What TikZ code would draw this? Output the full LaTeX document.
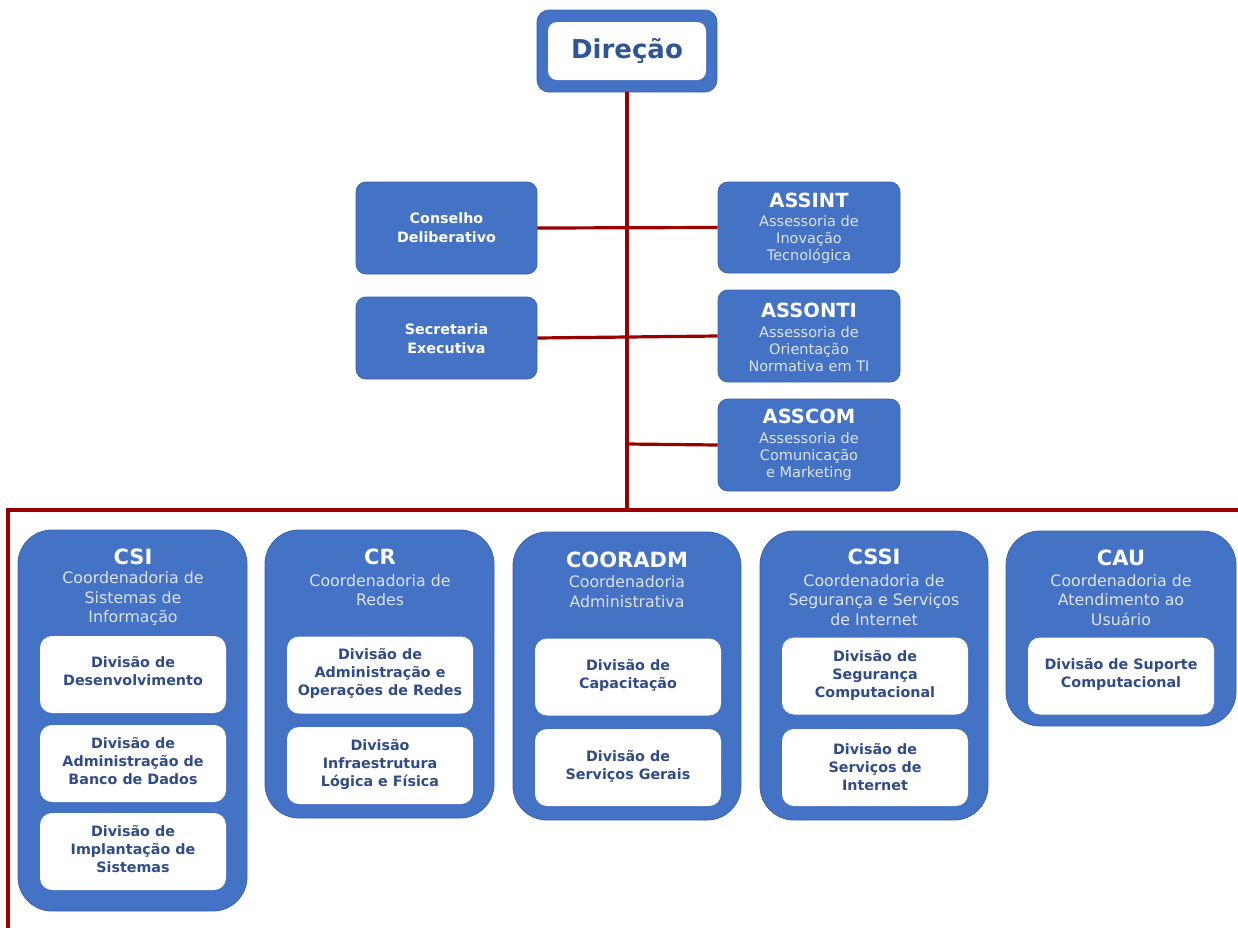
\documentclass[tikz,border=0pt]{standalone}
\usepackage{fontspec}
\setmainfont{DejaVu Sans}
\definecolor{boxblue}{HTML}{4472C4}
\definecolor{edgeblue}{HTML}{3A63AC}
\definecolor{linered}{HTML}{990000}
\definecolor{divtext}{HTML}{2F4B8A}
\definecolor{dirtext}{HTML}{2F5597}
\definecolor{subtext}{HTML}{DCE3EF}
\tikzset{
  bluebox/.style={draw=edgeblue, line width=0.8pt, fill=boxblue, rounded corners=10pt, inner sep=0pt},
  bigbox/.style={bluebox, rounded corners=34pt},
  divbox/.style={fill=white, rounded corners=12pt, minimum width=186pt, minimum height=77pt, inner sep=0pt},
  divlabel/.style={align=center, text=divtext, inner sep=0pt, font=\fontsize{14.3}{18}\selectfont\bfseries},
  smalllabel/.style={align=center, text=white, inner sep=0pt, font=\fontsize{14.3}{19}\selectfont\bfseries},
  asstitle/.style={text=white, inner sep=0pt, font=\fontsize{19.5}{21}\selectfont\bfseries},
  asssub/.style={align=center, text=subtext, inner sep=0pt, font=\fontsize{14.5}{17.3}\selectfont},
  cotitle/.style={text=white, inner sep=0pt, font=\fontsize{21}{23}\selectfont\bfseries},
  cosub/.style={align=center, text=subtext, inner sep=0pt, font=\fontsize{15.8}{19.5}\selectfont},
  conn/.style={draw=linered, line width=3.2pt, line join=miter}
}
\begin{document}
\begin{tikzpicture}[x=1pt, y=-1pt]
\useasboundingbox (0,0) rectangle (1238,927);
% coordinates on the red lines
\coordinate (hub) at (627,510);
\coordinate (lcorner) at (8,510);
\coordinate (lbot) at (8,928);
\coordinate (rend) at (1239,510);
\coordinate (comtap) at (627,444);
% --- Direção
\node[bluebox, rounded corners=12pt, minimum width=180pt, minimum height=82pt] (dir) at (627,51) {};
\node[fill=white, rounded corners=9pt, minimum width=158pt, minimum height=58pt, inner sep=0pt,
      text=dirtext, font=\fontsize{26}{28}\selectfont\bfseries] (dirin) at (627,51) {Direção};
% --- connectors (drawn before the boxes)
\draw[conn] (dir.south) -- (hub);
\draw[conn] (lbot) -- (lcorner) -- (rend);
% --- staff boxes
\node[bluebox, minimum width=181pt, minimum height=92pt] (cons) at (446.5,228) {};
\node[bluebox, minimum width=181pt, minimum height=82pt] (sec) at (446.5,338) {};
\node[bluebox, minimum width=182pt, minimum height=91pt] (assint) at (809,227.5) {};
\node[bluebox, minimum width=182pt, minimum height=92pt] (assonti) at (809,336) {};
\node[bluebox, minimum width=182pt, minimum height=92pt] (asscom) at (809,445) {};
\draw[conn] (cons.east) -- (assint.west);
\draw[conn] (sec.east) -- (assonti.west);
\draw[conn] (comtap) -- (asscom.west);
\node[smalllabel] (consT) at (446.5,227.5) {Conselho\\Deliberativo};
\node[smalllabel] (secT) at (446.5,338.5) {Secretaria\\Executiva};
\node[asstitle] (assintT) at (809,200) {ASSINT};
\node[asssub] (assintS) at (809,239.5) {Assessoria de\\Inovação\\Tecnológica};
\node[asstitle] (assontiT) at (809,310) {ASSONTI};
\node[asssub] (assontiS) at (809,349) {Assessoria de\\Orientação\\Normativa em TI};
\node[asstitle] (asscomT) at (809,416) {ASSCOM};
\node[asssub] (asscomS) at (809,456.5) {Assessoria de\\Comunicação\\e Marketing};
% --- CSI
\node[bigbox, minimum width=229pt, minimum height=381pt] (csi) at (132.5,720.5) {};
\node[cotitle] (csiT) at (133,557) {CSI};
\node[cosub] (csiS) at (133,599) {Coordenadoria de\\Sistemas de\\Informação};
\node[divbox] (csi1) at (133,674.5) {};
\node[divbox] (csi2) at (133,763.5) {};
\node[divbox] (csi3) at (133,851.5) {};
\node[divlabel] (csi1T) at (133,671.5) {Divisão de\\Desenvolvimento};
\node[divlabel] (csi2T) at (133,761) {Divisão de\\Administração de\\Banco de Dados};
\node[divlabel] (csi3T) at (133,849) {Divisão de\\Implantação de\\Sistemas};
% --- CR
\node[bigbox, minimum width=229pt, minimum height=288pt] (cr) at (379.5,674) {};
\node[cotitle] (crT) at (380,557) {CR};
\node[cosub] (crS) at (380,590) {Coordenadoria de\\Redes};
\node[divbox] (cr1) at (380,675) {};
\node[divbox] (cr2) at (380,765.5) {};
\node[divlabel] (cr1T) at (380,673) {Divisão de\\Administração e\\Operações de Redes};
\node[divlabel] (cr2T) at (380,764) {Divisão\\Infraestrutura\\Lógica e Física};
% --- COORADM
\node[bigbox, minimum width=228pt, minimum height=288pt] (adm) at (627,676) {};
\node[cotitle] (admT) at (627,560) {COORADM};
\node[cosub] (admS) at (627,591.5) {Coordenadoria\\Administrativa};
\node[divbox] (adm1) at (628,677) {};
\node[divbox] (adm2) at (628,767.5) {};
\node[divlabel] (adm1T) at (628,675) {Divisão de\\Capacitação};
\node[divlabel] (adm2T) at (628,766) {Divisão de\\Serviços Gerais};
% --- CSSI
\node[bigbox, minimum width=228pt, minimum height=289pt] (cssi) at (874,675.5) {};
\node[cotitle] (cssiT) at (874,557) {CSSI};
\node[cosub] (cssiS) at (874,600) {Coordenadoria de\\Segurança e Serviços\\de Internet};
\node[divbox] (cssi1) at (875,676) {};
\node[divbox] (cssi2) at (875,767.5) {};
\node[divlabel] (cssi1T) at (875,675) {Divisão de\\Segurança\\Computacional};
\node[divlabel] (cssi2T) at (875,767) {Divisão de\\Serviços de\\Internet};
% --- CAU
\node[bigbox, minimum width=230pt, minimum height=195pt] (cau) at (1121,628.5) {};
\node[cotitle] (cauT) at (1121,558) {CAU};
\node[cosub] (cauS) at (1121,600) {Coordenadoria de\\Atendimento ao\\Usuário};
\node[divbox] (cau1) at (1121,676) {};
\node[divlabel] (cau1T) at (1121,674.5) {Divisão de Suporte\\Computacional};
\end{tikzpicture}
\end{document}
